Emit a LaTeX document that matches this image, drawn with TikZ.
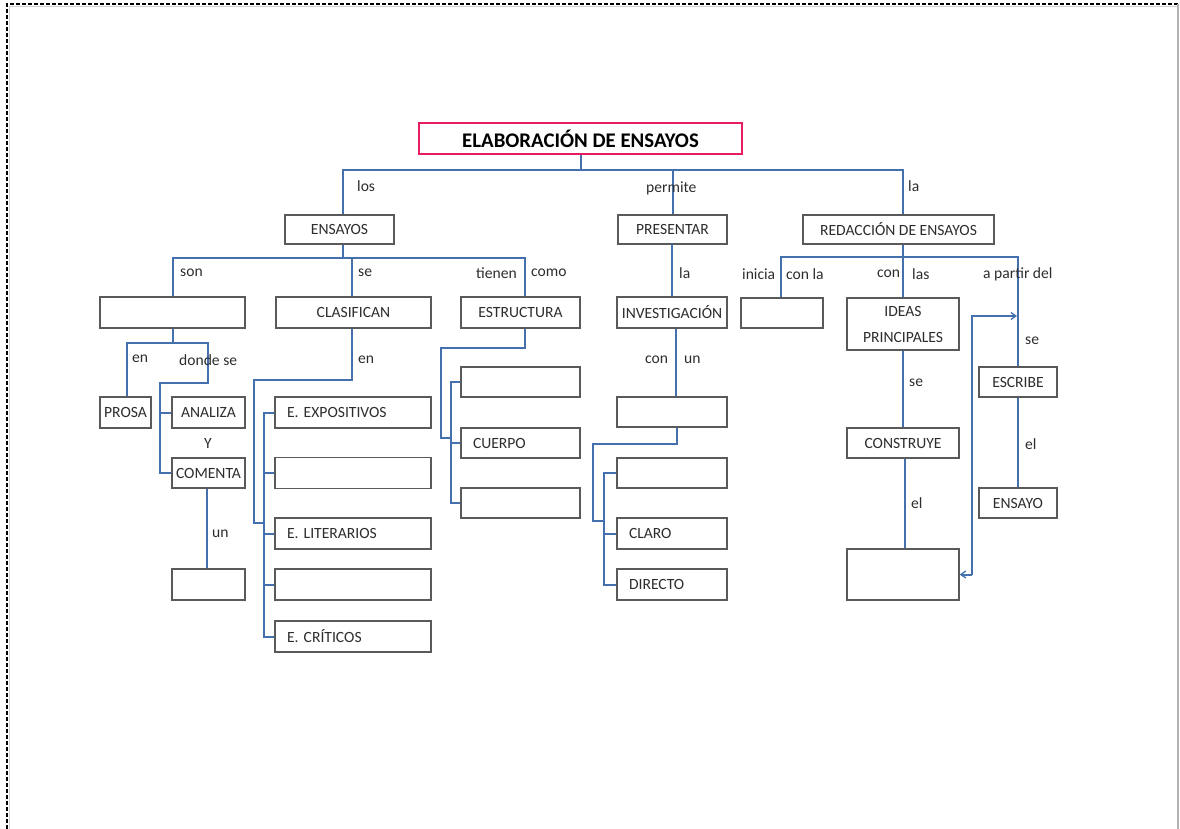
\documentclass[tikz,border=0pt]{standalone}
\usepackage{fontspec}
\setmainfont{Carlito}
\frenchspacing
\usetikzlibrary{arrows.meta}
\definecolor{linkblue}{RGB}{68,112,174}
\definecolor{boxgray}{RGB}{90,90,90}
\definecolor{txtgray}{RGB}{45,45,45}
\definecolor{titlepink}{RGB}{232,28,98}
\tikzset{
  box/.style={draw=boxgray, line width=1.4pt, fill=white, inner sep=0pt,
    text=txtgray, font=\fontsize{15.6}{18}\selectfont, align=center},
  lbox/.style={box, align=left, inner xsep=12pt},
  conn/.style={draw=linkblue, line width=2pt},
  lbl/.style={inner sep=0pt, anchor=west, text=txtgray,
    font=\fontsize{15.6}{18}\selectfont},
  tip/.style={-{Straight Barb[length=5pt,width=7pt,line width=1.3pt]}}
}
\begin{document}
\begin{tikzpicture}[x=1pt,y=-1pt]
\useasboundingbox (0,0) rectangle (1180,829);
% page frame
\draw[gray!35, line width=1pt] (9.5,829) -- (9.5,6.5) -- (1178,6.5);
\draw[black, line width=1.2pt, dash pattern=on 4pt off 2pt] (7,829) -- (7,4) -- (1178,4);
\draw[gray!60, line width=1.2pt] (1178,4) -- (1178,829);

% title
\node[draw=titlepink, line width=2.2pt, minimum width=323, minimum height=31,
  inner sep=0pt, text=black, font=\bfseries\fontsize{20.8}{23}\selectfont]
  (title) at (580.5,138.5) {ELABORACIÓN DE ENSAYOS};

% first level
\node[box, minimum width=109, minimum height=29] (ens)  at (339.5,229.5) {ENSAYOS};
\node[box, minimum width=109, minimum height=29] (pres) at (672.5,229.5) {PRESENTAR};
\node[box, minimum width=191, minimum height=29] (red)  at (898.5,229.5) {REDACCIÓN DE ENSAYOS};

% ensayos branch
\node[box, minimum width=145, minimum height=31] (tipo) at (172.5,312.5) {};
\node[box, minimum width=155, minimum height=31] (clas) at (353.5,312.5) {CLASIFICAN};
\node[box, minimum width=119, minimum height=31] (estr) at (520.5,312.5) {ESTRUCTURA};

\node[box, minimum width=51, minimum height=31] (prosa)   at (125.5,412.5) {PROSA};
\node[box, minimum width=73, minimum height=31] (analiza) at (208.5,412.5) {ANALIZA};
\node[box, minimum width=73, minimum height=30] (comenta) at (208.5,473) {COMENTA};
\node[box, minimum width=73, minimum height=31] (coment2) at (208.5,584.5) {};

\node[lbox, text width=132, minimum height=31] (expo) at (353,412.5) {E. EXPOSITIVOS};
\node[lbox, text width=132, minimum height=31] (cl2)  at (353,473) {};
\node[lbox, text width=132, minimum height=31] (lit)  at (353,533.5) {E. LITERARIOS};
\node[lbox, text width=132, minimum height=31] (cl4)  at (353,584.5) {};
\node[lbox, text width=132, minimum height=31] (crit) at (353,636.5) {E. CRÍTICOS};

\node[lbox, text width=95, minimum height=30] (intro) at (520.5,382) {};
\node[lbox, text width=95, minimum height=30] (cuer)  at (520.5,443) {CUERPO};
\node[lbox, text width=95, minimum height=30] (conc)  at (520.5,503) {};

% presentar branch
\node[box, minimum width=110, minimum height=31] (inv)   at (672,312.5) {INVESTIGACIÓN};
\node[box, minimum width=110, minimum height=30] (leng)  at (672,412) {};
\node[lbox, text width=86, minimum height=30] (pr1)   at (672,473) {};
\node[lbox, text width=86, minimum height=31] (claro) at (672,533.5) {CLARO};
\node[lbox, text width=86, minimum height=31] (dir)   at (672,584.5) {DIRECTO};

% redaccion branch
\node[box, minimum width=82, minimum height=30] (ini)   at (782,313) {};
\node[box, minimum width=112, minimum height=52, font=\fontsize{15.6}{26}\selectfont]
  (ideas) at (903,324) {IDEAS\\PRINCIPALES};
\node[box, minimum width=112, minimum height=30] (cons)  at (903,443) {CONSTRUYE};
\node[box, minimum width=112, minimum height=51] (cuerpo2) at (903,574.5) {};
\node[box, minimum width=78, minimum height=30] (escr)  at (1018,382) {ESCRIBE};
\node[box, minimum width=78, minimum height=30] (ensa)  at (1018,503) {ENSAYO};

% bar heights and bend points
\coordinate (y170) at (0,170);
\coordinate (y258) at (0,258);
\coordinate (y257) at (0,257);
\coordinate (ds) at (208,343);
\coordinate (k1) at (160,383);
\coordinate (c1) at (254,380);
\coordinate (c2) at (264,523);
\coordinate (e1) at (441,348);
\coordinate (e2) at (451,438);
\coordinate (p1) at (593,444);
\coordinate (p2) at (604,521);
\coordinate (r1) at (972,316);
\coordinate (r2) at (1017,316);

% connectors, top level
\draw[conn] (title.south) -- (title.south |- y170);
\draw[conn] ([xshift=3.5pt]ens.north) |- ([xshift=4.5pt]red.north |- y170) -- ([xshift=4.5pt]red.north);
\draw[conn] (pres.north) -- (pres.north |- y170);

% ensayos
\draw[conn] ([xshift=3.5pt]ens.south) -- ([xshift=3.5pt]ens.south |- y258);
\draw[conn] (tipo.north) |- ([xshift=4.5pt]estr.north |- y258) -- ([xshift=4.5pt]estr.north);
\draw[conn] ([xshift=-1.5pt]clas.north) -- ([xshift=-1.5pt]clas.north |- y258);

\draw[conn] (tipo.south) -- (tipo.south |- ds);
\draw[conn] ([xshift=1pt]prosa.north) |- (ds) |- (k1) |- (comenta.west);
\draw[conn] (k1 |- analiza.west) -- (analiza.west);
\draw[conn] ([xshift=-2pt]comenta.south) -- ([xshift=-2pt]coment2.north);

\draw[conn] ([xshift=-1.5pt]clas.south) |- (c1) |- (c2);
\draw[conn] (expo.west) -- (expo.west -| c2) -- (crit.west -| c2) -- (crit.west);
\draw[conn] (cl2.west) -- (cl2.west -| c2);
\draw[conn] (lit.west) -- (lit.west -| c2);
\draw[conn] (cl4.west) -- (cl4.west -| c2);

\draw[conn] ([xshift=4.5pt]estr.south) |- (e1) |- (e2);
\draw[conn] (intro.west) -- (intro.west -| e2) -- (conc.west -| e2) -- (conc.west);
\draw[conn] (cuer.west) -- (cuer.west -| e2);

% presentar
\draw[conn] (pres.south) -- (pres.south -| inv.north) -- (inv.north);
\draw[conn] ([xshift=4pt]inv.south) -- ([xshift=4pt]leng.north);
\draw[conn] ([xshift=5pt]leng.south) |- (p1) |- (p2);
\draw[conn] (pr1.west) -- (pr1.west -| p2) -- (dir.west -| p2) -- (dir.west);
\draw[conn] (claro.west) -- (claro.west -| p2);

% redaccion
\draw[conn] ([xshift=4.5pt]red.south) -- ([xshift=4.5pt]red.south |- y257);
\draw[conn] ([xshift=-1pt]ini.north) |- (escr.north |- y257) -- (escr.north);
\draw[conn] (ideas.north) -- (ideas.north |- y257);
\draw[conn] (ideas.south) -- (cons.north);
\draw[conn] ([xshift=1.5pt]cons.south) -- ([xshift=1.5pt]cuerpo2.north);
\draw[conn] (escr.south) -- (ensa.north);
\draw[conn, tip] ([xshift=-0.5pt]r1 |- cuerpo2.east) -- (cuerpo2.east);
\draw[conn, tip] (cuerpo2.east -| r1) -- (r1) -- (r2);

% linking words
\node[lbl] (w1)  at (357,186) {los};
\node[lbl] (w2)  at (646,188) {permite};
\node[lbl] (w3)  at (908,186) {la};
\node[lbl] (w4)  at (180,273) {son};
\node[lbl] (w5)  at (358,273) {se};
\node[lbl] (w6)  at (476,273) {tienen};
\node[lbl] (w7)  at (531,273) {como};
\node[lbl] (w8)  at (679,273) {la};
\node[lbl] (w9)  at (742,274) {inicia};
\node[lbl] (w10) at (786,274) {con la};
\node[lbl] (w11) at (877,274) {con};
\node[lbl] (w12) at (912,274) {las};
\node[lbl] (w13) at (983,274) {a partir del};
\node[lbl] (w14) at (132,359) {en};
\node[lbl] (w15) at (179,360) {donde se};
\node[lbl] (w16) at (358,360) {en};
\node[lbl] (w17) at (645,360) {con};
\node[lbl] (w18) at (684,360) {un};
\node[lbl, anchor=center] (w19) at (208,443) {Y};
\node[lbl] (w20) at (212,534) {un};
\node[lbl] (w21) at (909,383) {se};
\node[lbl] (w22) at (911,503) {el};
\node[lbl] (w23) at (1025,341) {se};
\node[lbl] (w24) at (1025,444) {el};
\end{tikzpicture}
\end{document}
